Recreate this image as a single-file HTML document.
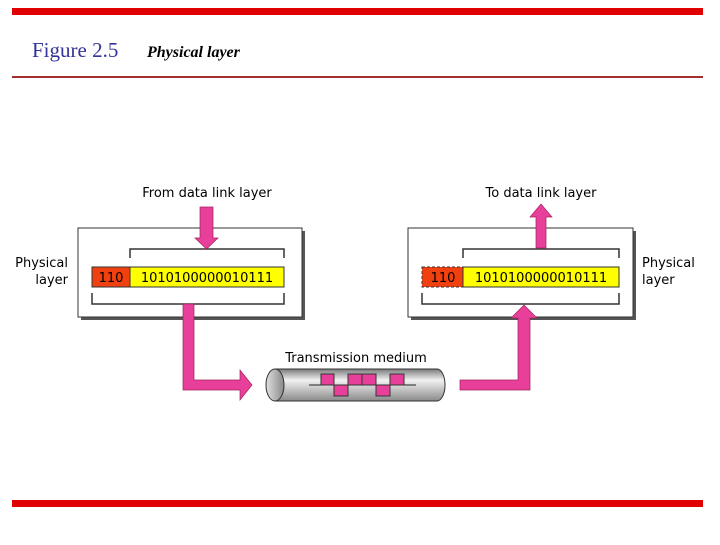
<!DOCTYPE html>
<html><head><meta charset="utf-8"><style>
body{margin:0;width:720px;height:540px;background:#fff;overflow:hidden}
</style></head><body>
<svg width="720" height="540" xmlns="http://www.w3.org/2000/svg" font-family="'DejaVu Sans','Liberation Sans',sans-serif">
<defs>
<linearGradient id="cyl" x1="0" y1="0" x2="0" y2="1">
<stop offset="0" stop-color="#7a7a7a"/><stop offset="0.35" stop-color="#f2f2f2"/><stop offset="1" stop-color="#8a8a8a"/>
</linearGradient>
<linearGradient id="end" x1="0" y1="0" x2="1" y2="0">
<stop offset="0" stop-color="#e0e0e0"/><stop offset="1" stop-color="#888"/>
</linearGradient>
</defs>
<rect x="12" y="8" width="691" height="7" fill="#e00000"/>
<rect x="12" y="76" width="691" height="2" fill="#a03030"/>
<rect x="12" y="500" width="691" height="7" fill="#e00000"/>
<text x="32" y="57" font-family="'Liberation Serif',serif" font-size="21" fill="#333399">Figure 2.5</text>
<text x="147" y="57" font-family="'Liberation Serif',serif" font-size="16" font-style="italic" font-weight="bold">Physical layer</text>

<!-- left box -->
<rect x="81" y="231" width="224" height="89" fill="#555"/>
<rect x="78" y="228" width="224" height="89" fill="#fff" stroke="#333" stroke-width="1"/>
<path d="M130 258V249H284V258" fill="none" stroke="#333" stroke-width="1.5"/>
<rect x="92" y="267" width="38" height="20" fill="#f04010" stroke="#333"/>
<rect x="130" y="267" width="154" height="20" fill="#ffff00" stroke="#333"/>
<path d="M92 293V304H284V293" fill="none" stroke="#333" stroke-width="1.5"/>
<text x="111" y="282" font-size="13" text-anchor="middle">110</text>
<text x="207" y="282" font-size="13" text-anchor="middle">1010100000010111</text>
<text x="207" y="197" font-size="13" text-anchor="middle">From data link layer</text>
<text x="68" y="267" font-size="13" text-anchor="end">Physical</text>
<text x="68" y="284" font-size="13" text-anchor="end">layer</text>
<polygon points="200,207 213,207 213,238 218,238 206.5,249 195,238 200,238" fill="#e8409a" stroke="#a0205a" stroke-width="0.7"/>
<polygon points="183,304 194,304 194,380 240,380 240,370 252,385 240,400 240,390 183,390" fill="#e8409a" stroke="#a0205a" stroke-width="0.7"/>

<!-- right box -->
<rect x="411" y="231" width="225" height="89" fill="#555"/>
<rect x="408" y="228" width="225" height="89" fill="#fff" stroke="#333"/>
<path d="M463 258V249H619V258" fill="none" stroke="#333" stroke-width="1.5"/>
<rect x="422" y="267" width="41" height="20" fill="#f04010" stroke="#333" stroke-dasharray="3,2"/>
<rect x="463" y="267" width="156" height="20" fill="#ffff00" stroke="#333"/>
<path d="M422 293V304H619V293" fill="none" stroke="#333" stroke-width="1.5"/>
<text x="443" y="282" font-size="13" text-anchor="middle">110</text>
<text x="541" y="282" font-size="13" text-anchor="middle">1010100000010111</text>
<text x="541" y="197" font-size="13" text-anchor="middle">To data link layer</text>
<text x="642" y="267" font-size="13">Physical</text>
<text x="642" y="284" font-size="13">layer</text>
<polygon points="536,248 546,248 546,217 552,217 541,204 530,217 536,217" fill="#e8409a" stroke="#a0205a" stroke-width="0.7"/>
<polygon points="460,380 518,380 518,318 511,318 524,305 537,318 530,318 530,390 460,390" fill="#e8409a" stroke="#a0205a" stroke-width="0.7"/>

<!-- cylinder -->
<text x="356" y="362" font-size="13" text-anchor="middle">Transmission medium</text>
<path d="M275 369H437A8 16 0 0 1 437 401H275Z" fill="url(#cyl)" stroke="#333"/>
<ellipse cx="275" cy="385" rx="9" ry="16" fill="url(#end)" stroke="#333"/>
<line x1="309" y1="385" x2="416" y2="385" stroke="#222"/>
<g fill="#e8409a" stroke="#333" stroke-width="1">
<rect x="321" y="374" width="13" height="11"/>
<rect x="334" y="385" width="14" height="11"/>
<rect x="348" y="374" width="14" height="11"/>
<rect x="362" y="374" width="14" height="11"/>
<rect x="376" y="385" width="14" height="11"/>
<rect x="390" y="374" width="14" height="11"/>
</g>
</svg>
</body></html>
